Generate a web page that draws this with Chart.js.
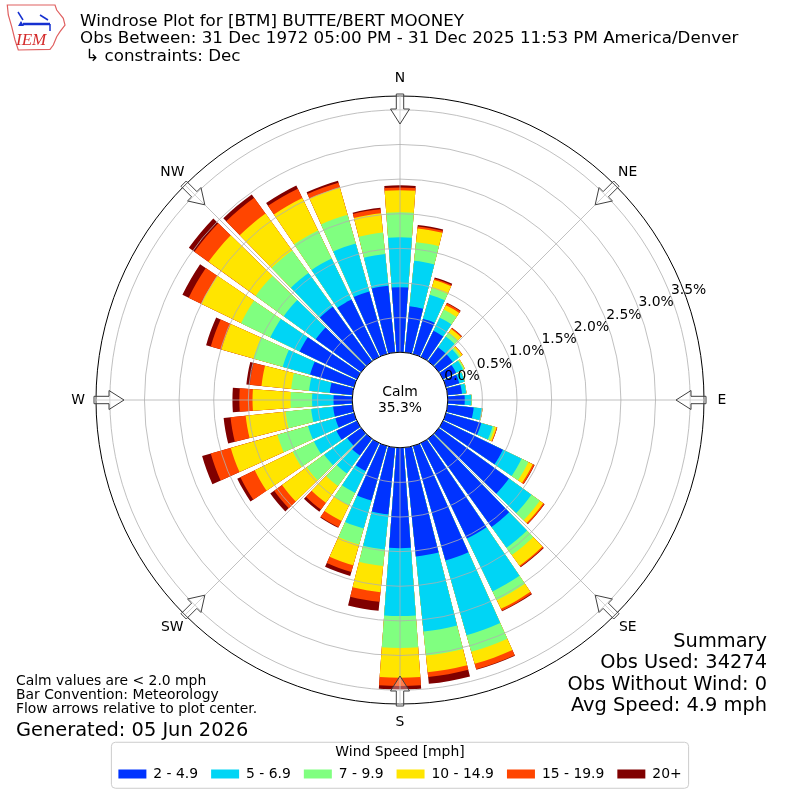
<!DOCTYPE html>
<html>
<head>
<meta charset="utf-8">
<title>Windrose Plot for [BTM] BUTTE/BERT MOONEY</title>
<script src="https://cdn.jsdelivr.net/npm/chart.js@4.4.1/dist/chart.umd.min.js"></script>
<style>
  html, body { margin: 0; padding: 0; background: #fff; }
  #wrap { width: 800px; height: 800px; }
</style>
</head>
<body>
<div id="wrap"><canvas id="rose" width="800" height="800"></canvas></div>
<script>
// --- data (percent of obs, per 10 degree sector) ---
const DIRECTIONS = [0, 10, 20, 30, 40, 50, 60, 70, 80, 90, 100, 110, 120, 130, 140, 150, 160, 170,
                    180, 190, 200, 210, 220, 230, 240, 250, 260, 270, 280, 290, 300, 310, 320, 330, 340, 350];
const SPEED_BINS = ["2 - 4.9", "5 - 6.9", "7 - 9.9", "10 - 14.9", "15 - 19.9", "20+"];
const SPEED_COLORS = ["#0033ff", "#00d5f5", "#80ff80", "#ffe500", "#ff4500", "#800000"];

const FREQ_2_5 = [0.94, 0.67, 0.53, 0.42, 0.25, 0.25, 0.21, 0.20, 0.21, 0.245, 0.38, 0.53,
                  0.96, 1.25, 1.57, 1.53, 1.72, 1.58, 1.45, 0.97, 0.82, 0.45, 0.30, 0.25,
                  0.33, 0.28, 0.28, 0.27, 0.33, 0.66, 0.92, 0.81, 0.97, 0.92, 0.94, 0.97];
const FREQ_5_7 = [0.72, 0.66, 0.36, 0.21, 0.19, 0.11, 0.11, 0.08, 0.06, 0.095, 0.12, 0.17,
                  0.30, 0.40, 0.37, 0.85, 1.12, 1.09, 0.98, 0.51, 0.42, 0.35, 0.32, 0.41,
                  0.36, 0.41, 0.32, 0.31, 0.30, 0.41, 0.47, 0.57, 0.60, 0.66, 0.72, 0.46];
const FREQ_7_10 = [0.36, 0.27, 0.10, 0.13, 0.07, 0.03, 0.02, 0.005, 0.005, 0.005, 0.005, 0.03,
                   0.11, 0.15, 0.13, 0.14, 0.25, 0.35, 0.46, 0.24, 0.24, 0.20, 0.22, 0.31,
                   0.34, 0.46, 0.37, 0.31, 0.26, 0.44, 0.47, 0.50, 0.40, 0.45, 0.43, 0.31];
const FREQ_10_15 = [0.32, 0.20, 0.12, 0.07, 0.065, 0.03, 0.01, 0, 0, 0, 0.003, 0.03,
                    0.07, 0.06, 0.19, 0.14, 0.18, 0.24, 0.43, 0.38, 0.31, 0.25, 0.30, 0.44,
                    0.61, 0.70, 0.58, 0.55, 0.43, 0.48, 0.64, 0.84, 0.66, 0.52, 0.41, 0.28];
const FREQ_15_20 = [0.04, 0.03, 0.02, 0.03, 0.015, 0.005, 0, 0, 0, 0, 0, 0.01,
                    0.025, 0.02, 0.02, 0.03, 0.08, 0.07, 0.12, 0.14, 0.10, 0.10, 0.12, 0.14,
                    0.23, 0.30, 0.22, 0.19, 0.17, 0.16, 0.20, 0.25, 0.28, 0.15, 0.07, 0.06];
const FREQ_20P = [0.03, 0.02, 0.02, 0.01, 0.005, 0, 0, 0, 0, 0, 0, 0,
                  0.005, 0.005, 0.01, 0.01, 0.01, 0.10, 0.05, 0.13, 0.06, 0.01, 0.04, 0.07,
                  0.05, 0.13, 0.10, 0.10, 0.05, 0.07, 0.10, 0.10, 0.06, 0.05, 0.03, 0.02];

const RING_TICKS = [0, 0.5, 1.0, 1.5, 2.0, 2.5, 3.0, 3.5];
const COMPASS = ["N", "NE", "E", "SE", "S", "SW", "W", "NW"];
const CALM_PCT = "35.3%";

const TITLE_LINES = [
  "Windrose Plot for [BTM] BUTTE/BERT MOONEY",
  "Obs Between: 31 Dec 1972 05:00 PM - 31 Dec 2025 11:53 PM America/Denver",
  " \u21b3 constraints: Dec"
];
const NOTE_LINES = ["Calm values are < 2.0 mph", "Bar Convention: Meteorology", "Flow arrows relative to plot center."];
const GENERATED = "Generated: 05 Jun 2026";
const SUMMARY_LINES = ["Summary", "Obs Used: 34274", "Obs Without Wind: 0", "Avg Speed: 4.9 mph"];

// radial range: the negative minimum leaves room for the calm circle
const R_MIN = -0.69;
const R_MAX = 3.7;
const SECTOR = 360 / DIRECTIONS.length;
const BAR_W = 8.4;
const FONT = '"DejaVu Sans", sans-serif';

Chart.defaults.font.family = FONT;
Chart.defaults.color = "#000";

// stack the bins: each dataset holds the running total, smallest drawn on top
const layers = [FREQ_2_5, FREQ_5_7, FREQ_7_10, FREQ_10_15, FREQ_15_20, FREQ_20P];
const running = DIRECTIONS.map(() => 0);
const datasets = layers.map((layer, k) => {
  const data = [];
  layer.forEach((v, i) => {
    running[i] += v;
    data.push(running[i], 0); // bar, then the thin gap sector
  });
  return {
    label: SPEED_BINS[k],
    data: data,
    backgroundColor: (c) => (c.dataIndex % 2 ? "rgba(0,0,0,0)" : SPEED_COLORS[k]),
    borderWidth: 0,
    angle: (c) => (c.dataIndex % 2 ? SECTOR - BAR_W : BAR_W)
  };
});
const labels = DIRECTIONS.flatMap(d => [d + "\u00b0", ""]);

const toXY = (scale, deg, dist) => {
  const a = (deg - 90) * Math.PI / 180;
  return [scale.xCenter + dist * Math.cos(a), scale.yCenter + dist * Math.sin(a)];
};

const drawLogo = (ctx) => {
  ctx.save();
  ctx.strokeStyle = "#e06060";
  ctx.lineWidth = 1.2;
  const outline = [[7.3, 5], [55, 5], [56.7, 10], [63.3, 18.3], [65, 25], [60, 31.7], [56.7, 36.7],
                   [53.3, 45], [50, 49.3], [18.3, 50], [15, 40], [11.7, 26.7], [8.3, 15]];
  ctx.beginPath();
  outline.forEach(([x, y], i) => (i ? ctx.lineTo(x, y) : ctx.moveTo(x, y)));
  ctx.closePath();
  ctx.stroke();
  ctx.strokeStyle = "#1530d0";
  ctx.fillStyle = "#1530d0";
  ctx.lineWidth = 2.5;
  ctx.beginPath(); ctx.moveTo(23, 24); ctx.lineTo(50, 24); ctx.stroke();
  ctx.lineWidth = 1.5;
  ctx.beginPath(); ctx.moveTo(18, 12); ctx.lineTo(23, 20); ctx.stroke();
  ctx.beginPath(); ctx.moveTo(40, 15); ctx.lineTo(48, 20); ctx.stroke();
  ctx.beginPath(); ctx.moveTo(50, 24); ctx.lineTo(50, 31); ctx.stroke();
  ctx.beginPath(); ctx.moveTo(21, 21); ctx.lineTo(24, 26); ctx.lineTo(18, 26); ctx.closePath(); ctx.fill();
  ctx.fillStyle = "#d42a2a";
  ctx.font = 'italic 17px "Liberation Serif", serif';
  ctx.textAlign = "left";
  ctx.textBaseline = "alphabetic";
  ctx.fillText("IEM", 16, 45);
  ctx.restore();
};

const roseDecor = {
  id: "roseDecor",
  afterDraw(chart) {
    const ctx = chart.ctx;
    const s = chart.scales.r;
    const r0 = s.getDistanceFromCenterForValue(0);
    const rOut = s.getDistanceFromCenterForValue(R_MAX);
    ctx.save();

    // compass spokes over the bars
    ctx.strokeStyle = "#b0b0b0";
    ctx.lineWidth = 0.8;
    COMPASS.forEach((_, k) => {
      const [x1, y1] = toXY(s, k * 45, r0);
      const [x2, y2] = toXY(s, k * 45, rOut);
      ctx.beginPath(); ctx.moveTo(x1, y1); ctx.lineTo(x2, y2); ctx.stroke();
    });

    // calm circle
    ctx.beginPath();
    ctx.arc(s.xCenter, s.yCenter, r0, 0, Math.PI * 2);
    ctx.fillStyle = "#fff";
    ctx.fill();
    ctx.strokeStyle = "#000";
    ctx.lineWidth = 1;
    ctx.stroke();
    ctx.fillStyle = "#000";
    ctx.font = "13.9px " + FONT;
    ctx.textAlign = "center";
    ctx.textBaseline = "middle";
    ctx.fillText("Calm", s.xCenter, s.yCenter - 8);
    ctx.fillText(CALM_PCT, s.xCenter, s.yCenter + 8);

    // flow arrows pointing to the centre
    COMPASS.forEach((name, k) => {
      const deg = k * 45;
      const a = (deg - 90) * Math.PI / 180;
      const e = [Math.cos(a), Math.sin(a)];
      const n = [-Math.sin(a), Math.cos(a)];
      const p = (u, v) => [s.xCenter + u * e[0] + v * n[0], s.yCenter + u * e[1] + v * n[1]];
      const shape = [p(rOut - 28, 0), p(rOut - 13, 9.5), p(rOut - 13, 3.7), p(rOut + 2, 3.7),
                     p(rOut + 2, -3.7), p(rOut - 13, -3.7), p(rOut - 13, -9.5)];
      ctx.beginPath();
      shape.forEach(([x, y], i) => (i ? ctx.lineTo(x, y) : ctx.moveTo(x, y)));
      ctx.closePath();
      ctx.fillStyle = "rgba(255,255,255,0.3)";
      ctx.fill();
      ctx.strokeStyle = "#404040";
      ctx.lineWidth = 1;
      ctx.stroke();

      const [lx, ly] = toXY(s, deg, rOut + 18);
      ctx.fillStyle = "#000";
      ctx.fillText(name, lx, ly);
    });

    // ring labels along the 69 degree bearing
    RING_TICKS.forEach(v => {
      const [tx, ty] = toXY(s, 69.2, s.getDistanceFromCenterForValue(v) + 18.5);
      ctx.fillText(v.toFixed(1) + "%", tx, ty);
    });

    // header
    drawLogo(ctx);
    ctx.textAlign = "left";
    ctx.textBaseline = "alphabetic";
    ctx.font = "16.7px " + FONT;
    TITLE_LINES.forEach((t, i) => ctx.fillText(t, 80, 26 + i * 17.3));

    // notes bottom left
    ctx.font = "13.9px " + FONT;
    NOTE_LINES.forEach((t, i) => ctx.fillText(t, 16, 685 + i * 14.2));
    ctx.font = "19.4px " + FONT;
    ctx.fillText(GENERATED, 16, 735.5);

    // summary bottom right
    ctx.textAlign = "right";
    SUMMARY_LINES.forEach((t, i) => ctx.fillText(t, 767, 646.5 + i * 21.6));

    // frame round the legend
    const lg = chart.legend;
    const hb = lg.legendHitBoxes;
    if (hb && hb.length) {
      const left = hb[0].left - 7;
      const last = hb[hb.length - 1];
      const right = last.left + last.width + 7;
      const top = lg.top - 0.8;
      const bottom = lg.bottom - 2.7;
      ctx.beginPath();
      ctx.roundRect(left, top, right - left, bottom - top, 4);
      ctx.strokeStyle = "#cccccc";
      ctx.lineWidth = 1;
      ctx.stroke();
    }
    ctx.restore();
  }
};

new Chart(document.getElementById("rose"), {
  type: "polarArea",
  data: { labels: labels, datasets: datasets },
  options: {
    responsive: false,
    animation: false,
    events: [],
    layout: { padding: { left: 96, right: 96, top: 56.95, bottom: 9.05 } },
    scales: {
      r: {
        min: R_MIN,
        max: R_MAX,
        startAngle: -BAR_W / 2,
        afterBuildTicks: (scale) => {
          scale.ticks = RING_TICKS.concat([R_MAX]).map(v => ({ value: v }));
        },
        ticks: { display: false },
        grid: {
          z: 1,
          circular: true,
          lineWidth: (c) => (c.tick && c.tick.value === R_MAX ? 1 : 0.8),
          color: (c) => (c.tick && c.tick.value === R_MAX ? "#000" : "#b0b0b0")
        },
        angleLines: { display: false },
        pointLabels: { display: false }
      }
    },
    plugins: {
      tooltip: { enabled: false },
      legend: {
        position: "bottom",
        onClick: () => {},
        title: { display: true, text: "Wind Speed [mph]", color: "#000", font: { size: 13.9 }, padding: { top: 2, bottom: -7.7 } },
        labels: {
          color: "#000",
          font: { size: 13.9 },
          boxWidth: 28,
          boxHeight: 9,
          padding: 13,
          generateLabels: (chart) => chart.data.datasets.map((ds, i) => ({
            text: ds.label,
            fillStyle: SPEED_COLORS[i],
            strokeStyle: SPEED_COLORS[i],
            lineWidth: 0,
            hidden: false,
            datasetIndex: i
          }))
        }
      }
    }
  },
  plugins: [roseDecor]
});
</script>
</body>
</html>
